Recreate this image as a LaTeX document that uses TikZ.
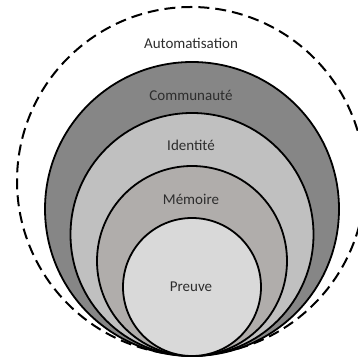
\documentclass[tikz,border=0pt]{standalone}
\usepackage{fontspec}
\setmainfont{Carlito}
\definecolor{txtgray}{RGB}{45,45,45}
\definecolor{commgray}{RGB}{134,134,134}
\definecolor{identgray}{RGB}{192,192,192}
\definecolor{memgray}{RGB}{176,173,171}
\definecolor{preuvegray}{RGB}{217,217,217}
\tikzset{
  ring/.style={circle,draw=black,line width=1.8pt,inner sep=0pt},
  tag/.style={font=\fontsize{15}{18}\selectfont,text=txtgray}
}
\begin{document}
\begin{tikzpicture}
  [x=1pt,y=1pt]
  \useasboundingbox (0,0) rectangle (358,358);
  \clip (0,0) rectangle (358,358);
  \node[ring,draw=black,line width=2pt,dash pattern=on 11pt off 6pt,minimum size=348pt] (autom) at (191,177) {};
  \node[ring,fill=commgray,minimum size=294pt] (comm) at (192,149) {};
  \node[ring,fill=identgray,minimum size=243pt] (ident) at (192,123.5) {};
  \node[ring,fill=memgray,minimum size=190pt] (mem) at (192,97) {};
  \node[ring,fill=preuvegray,minimum size=138pt] (preuve) at (192,71) {};

  \node[tag] (t1) at (191,315) {Automatisation};
  \node[tag] (t2) at (191,263) {Communauté};
  \node[tag] (t3) at (191,213) {Identité};
  \node[tag] (t4) at (191,159) {Mémoire};
  \node[tag] (t5) at (191,71) {Preuve};

\end{tikzpicture}
\end{document}
